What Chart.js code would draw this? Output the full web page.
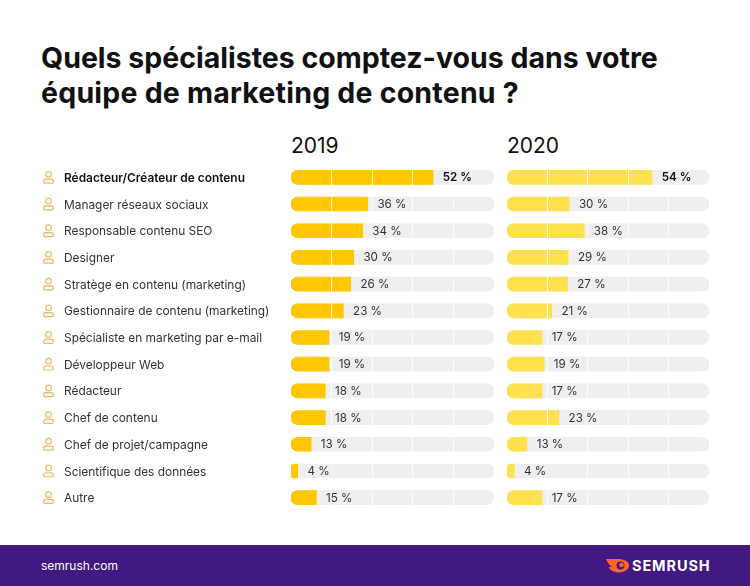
<!DOCTYPE html>
<html lang="fr">
<head>
<meta charset="utf-8">
<title>Spécialistes marketing de contenu</title>
<script src="https://cdn.jsdelivr.net/npm/chart.js@4"></script>
<style>
    html, body { margin: 0; padding: 0; background: #fff; }
    body { position: relative; width: 750px; height: 586px; overflow: hidden; font-family: Inter, sans-serif; color: #111; }
    h1 { position: absolute; left: 41px; top: 40px; margin: 0; font-size: 28.5px; line-height: 35px; font-weight: 700; white-space: nowrap; }
    h1 span { letter-spacing: 0.22px; }
    .year { position: absolute; top: 132px; font-size: 21px; line-height: 28px; font-weight: 400; }
    canvas { position: absolute; }
    #footer { position: absolute; left: 0; top: 545px; width: 750px; height: 41px; background: #421983; color: #fff; }
    #site { position: absolute; left: 41px; top: 13px; font-size: 12px; line-height: 16px; }
    #brand { position: absolute; left: 632px; top: 12px; font-size: 14.5px; line-height: 18px; font-weight: 700; letter-spacing: 0.9px; }
    #flame { position: absolute; left: 605px; top: 13px; }
</style>
</head>
<body>
<h1>Quels spécialistes comptez-vous dans votre<br><span>équipe de marketing de contenu ?</span></h1>
<div class="year" style="left:291px">2019</div>
<div class="year" style="left:507px">2020</div>
<canvas id="chart-2019" style="left:0;top:164px"></canvas>
<canvas id="chart-2020" style="left:507px;top:164px"></canvas>
<div id="footer">
    <div id="site">semrush.com</div>
    <svg id="flame" width="25" height="15" viewBox="0 0 25 15">
        <path fill="#FF642D" d="M1 1h12c6 0 11 2.500 11 6.500S19 14.500 14 14.500C9 14.500 5 12 3.500 9H7C5 7.500 3 5.500 1 1z"/>
        <circle cx="15.500" cy="7.500" r="4" fill="#421983"/>
        <circle cx="16.500" cy="7" r="2.300" fill="#FF642D"/>
    </svg>
    <div id="brand">SEMRUSH</div>
</div>

<script>
const categories = [
    'Rédacteur/Créateur de contenu', 'Manager réseaux sociaux', 'Responsable contenu SEO',
    'Designer', 'Stratège en contenu (marketing)', 'Gestionnaire de contenu (marketing)',
    'Spécialiste en marketing par e-mail', 'Développeur Web', 'Rédacteur',
    'Chef de contenu', 'Chef de projet/campagne', 'Scientifique des données', 'Autre'
];

// printed percentages
const printed2019 = [52, 36, 34, 30, 26, 23, 19, 19, 18, 18, 13, 4, 15];
const printed2020 = [54, 30, 38, 29, 27, 21, 17, 19, 17, 23, 13, 4, 17];

// bar lengths as drawn in the picture (% of the track), they don't follow the printed numbers exactly
const bars2019 = [70, 37.8, 35.3, 30.9, 29.4, 25.8, 18.7, 18.7, 16.9, 16.9, 9.9, 3.3, 12.5];
const bars2020 = [71.8, 30.8, 38.2, 30.3, 30, 22.2, 17.3, 18.4, 17.3, 25.7, 9.9, 3.6, 17.3];
const track = [100, 100, 100, 100, 100, 100, 100, 100, 100, 100, 100, 100, 100];

const FONT = 'Inter';
const BAR_HEIGHT = 14;
const CHART_HEIGHT = 347;

function drawPerson(ctx, cx, cy) {
    ctx.save();
    ctx.strokeStyle = '#F4B661';
    ctx.lineWidth = 1.2;
    ctx.beginPath();
    ctx.arc(cx, cy - 3, 2.8, 0, Math.PI * 2);
    ctx.stroke();
    ctx.beginPath();
    ctx.roundRect(cx - 5, cy + 1.8, 10, 4, [3, 3, 1.5, 1.5]);
    ctx.stroke();
    ctx.restore();
}

// value labels sit just after the bar, on a patch that hides the white separators
const valueLabels = {
    id: 'valueLabels',
    afterDraw(chart, args, opts) {
        const { ctx, scales } = chart;
        ctx.save();
        ctx.textBaseline = 'middle';
        ctx.textAlign = 'left';
        opts.printed.forEach((value, i) => {
            const x = scales.x.getPixelForValue(opts.bars[i]) + 9.7;
            const y = scales.y.getPixelForValue(i);
            const text = value + ' %';
            ctx.font = (i === 0 ? '600 ' : '400 ') + '11.6px ' + FONT;
            ctx.fillStyle = '#EFEFEF';
            ctx.fillRect(x - 2, y - BAR_HEIGHT / 2, ctx.measureText(text).width + 4, BAR_HEIGHT);
            ctx.fillStyle = i === 0 ? '#111' : '#333';
            ctx.fillText(text, x, y + 0.5);
        });
        ctx.restore();
    }
};

const personIcons = {
    id: 'personIcons',
    afterDraw(chart) {
        categories.forEach((c, i) => {
            drawPerson(chart.ctx, 48.5, chart.scales.y.getPixelForValue(i));
        });
    }
};

function createYearChart(id, width, bars, printed, color, withLabels) {
    const canvas = document.getElementById(id);
    canvas.width = width;
    canvas.height = CHART_HEIGHT;

    return new Chart(canvas.getContext('2d'), {
        type: 'bar',
        data: {
            labels: categories,
            datasets: [
                {
                    data: bars,
                    backgroundColor: color,
                    borderRadius: { topLeft: 7, bottomLeft: 7 },
                    borderSkipped: false,
                    barThickness: BAR_HEIGHT,
                    grouped: false,
                    order: 1
                },
                {
                    data: track,
                    backgroundColor: '#EFEFEF',
                    borderRadius: 7,
                    borderSkipped: false,
                    barThickness: BAR_HEIGHT,
                    grouped: false,
                    order: 2
                }
            ]
        },
        plugins: withLabels ? [valueLabels, personIcons] : [valueLabels],
        options: {
            indexAxis: 'y',
            responsive: false,
            animation: false,
            layout: { padding: { left: withLabels ? 64 : 0, right: 0, top: 0, bottom: 0 } },
            plugins: {
                legend: { display: false },
                tooltip: { enabled: false },
                valueLabels: { printed: printed, bars: bars }
            },
            scales: {
                x: {
                    min: 0,
                    max: 100,
                    afterBuildTicks: function(scale) {
                        scale.ticks = [20, 40, 60, 80].map(v => ({ value: v }));
                    },
                    ticks: { display: false },
                    border: { display: false },
                    grid: { color: 'rgba(255,255,255,0.85)', lineWidth: 1, z: 1, drawTicks: false }
                },
                y: {
                    display: withLabels,
                    afterFit: function(scale) {
                        if (withLabels) scale.width = 227;
                        // tick label overhang would otherwise shrink the rows
                        scale.paddingTop = 0;
                        scale.paddingBottom = 0;
                    },
                    border: { display: false },
                    grid: { display: false },
                    ticks: {
                        crossAlign: 'far',
                        padding: 0,
                        labelOffset: 1,
                        autoSkip: false,
                        color: function(context) {
                            return context.index === 0 ? '#111' : '#333';
                        },
                        font: function(context) {
                            return { family: FONT, size: 11.9, weight: context.index === 0 ? '600' : '400' };
                        }
                    }
                }
            }
        }
    });
}

createYearChart('chart-2019', 494, bars2019, printed2019, '#FFC700', true);
createYearChart('chart-2020', 202, bars2020, printed2020, '#FFE14F', false);
</script>
</body>
</html>
